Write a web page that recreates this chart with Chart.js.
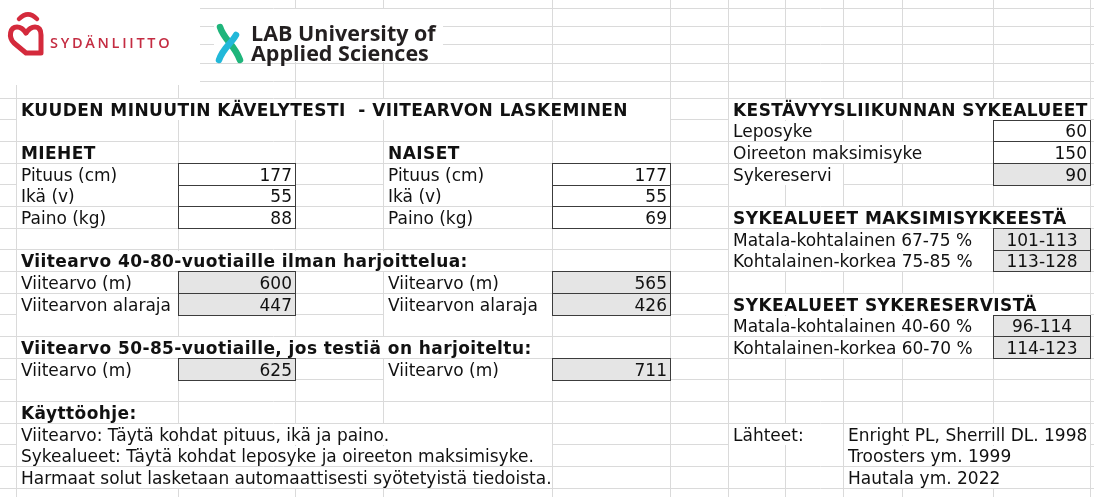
<!DOCTYPE html>
<html>
<head>
<meta charset="utf-8">
<script src="https://cdn.jsdelivr.net/npm/chart.js@4"></script>
<style>
  html, body { margin: 0; padding: 0; background: #fff; overflow: hidden; }
  #page { position: relative; width: 1094px; height: 497px; overflow: hidden; }
  #grid { position: absolute; left: 0; top: 0; }
  #cells { position: absolute; left: 0; top: 0; width: 1094px; height: 497px; }
  .cell { position: absolute; background: #fff; font-family: "DejaVu Sans", Verdana, sans-serif;
          font-size: 17px; color: #111; white-space: pre; overflow: visible; }
  .cell span { position: absolute; bottom: 1px; line-height: 17px; }
  .box { position: absolute; border: 1px solid #3c3c3c; box-sizing: border-box;
         font-family: "DejaVu Sans", Verdana, sans-serif; font-size: 17px; color: #111; }
  .box span { position: absolute; bottom: 1px; line-height: 17px; white-space: pre; }
  .gray { background: #e5e5e5; }
  .white { background: #fff; }
  .b { font-weight: bold; letter-spacing: 0.42px; }
  .cover { position: absolute; background: #fff; }
  .logo { position: absolute; }
</style>
</head>
<body>
<div id="page">
  <canvas id="grid" width="1094" height="497"></canvas>
  <div id="cells"></div>
  <div class="cover" style="left:0;top:0;width:200px;height:85px"></div>
  <div class="cover" style="left:214px;top:9px;width:229px;height:53px"></div>
  <svg class="logo" style="left:0;top:0" width="460" height="80">
    <path d="M19 19 Q28 10 37 19" fill="none" stroke="#d42a3c" stroke-width="4.5" stroke-linecap="round"/>
    <path d="M26 53 L14 43 C8 37 10 27 17 27 C21 27 24 30 26 33 C28 30 31 27 35 27 C40 27 41 31 41 35 L41 53 Z"
          fill="none" stroke="#d42a3c" stroke-width="5" stroke-linejoin="round"/>
    <text x="50" y="48" font-family="Open Sans" font-weight="600" font-size="14.5" letter-spacing="2.7" fill="#c42c42">SYDÄNLIITTO</text>
    <path d="M220 27 C224 40 234 44 240 60" fill="none" stroke="#1fb57b" stroke-width="6.5" stroke-linecap="round"/>
    <path d="M236 35 C231 44 223 48 219 60" fill="none" stroke="#22b8d9" stroke-width="6.5" stroke-linecap="round"/>
    <text x="251" y="41" font-family="Open Sans" font-weight="700" font-size="21.5" fill="#231f20">LAB University of</text>
    <text x="251" y="61" font-family="Open Sans" font-weight="700" font-size="21.5" fill="#231f20">Applied Sciences</text>
  </svg>
</div>
<script>
// sheet layout (px)
const colBounds = [16, 178, 295, 383, 552, 670, 728, 785, 843, 902, 993, 1090];
const rowBounds = [8, 26, 44, 63, 81, 98, 119.7, 141.3, 163, 184.7, 206.3, 228, 249.7, 271.3,
                   293, 314.7, 336.3, 358, 379.7, 401.3, 423, 444.7, 466.3, 488];
// column letters -> index in colBounds (left edge)
const COL = { B: 0, C: 1, D: 2, E: 3, F: 4, G: 5, H: 6, I: 7, J: 8, K: 9, L: 10 };
const FIRST = 5; // row index of the title row

// values
const title = "KUUDEN MINUUTIN KÄVELYTESTI  - VIITEARVON LASKEMINEN";
const inputLabels = ["Pituus (cm)", "Ikä (v)", "Paino (kg)"];
const miehetInput = [177, 55, 88];
const naisetInput = [177, 55, 69];
const refLabels = ["Viitearvo (m)", "Viitearvon alaraja"];
const miehetRef = [600, 447];
const naisetRef = [565, 426];
const miehetTrained = 625;
const naisetTrained = 711;
const hrLabels = ["Leposyke", "Oireeton maksimisyke", "Sykereservi"];
const hrValues = [60, 150, 90];
const maxLabels = ["Matala-kohtalainen 67-75 %", "Kohtalainen-korkea 75-85 %"];
const maxZones = ["101-113", "113-128"];
const resLabels = ["Matala-kohtalainen 40-60 %", "Kohtalainen-korkea 60-70 %"];
const resZones = ["96-114", "114-123"];
const instructions = [
  "Viitearvo: Täytä kohdat pituus, ikä ja paino.",
  "Sykealueet: Täytä kohdat leposyke ja oireeton maksimisyke.",
  "Harmaat solut lasketaan automaattisesti syötetyistä tiedoista."
];
const sources = ["Enright PL, Sherrill DL. 1998", "Troosters ym. 1999", "Hautala ym. 2022"];

const chart = new Chart(document.getElementById("grid"), {
  type: "scatter",
  data: { datasets: [{ data: [] }] },
  options: {
    responsive: false,
    animation: false,
    events: [],
    layout: { padding: 0 },
    plugins: { legend: { display: false }, tooltip: { enabled: false } },
    scales: {
      x: {
        type: "linear", min: 0, max: 1094,
        border: { display: false },
        grid: { color: "#dadada", drawTicks: false, lineWidth: 1 },
        ticks: { display: false },
        afterBuildTicks: (axis) => { axis.ticks = colBounds.map(v => ({ value: v })); }
      },
      y: {
        type: "linear", min: 0, max: 497, reverse: true,
        border: { display: false },
        grid: { color: "#dadada", drawTicks: false, lineWidth: 1 },
        ticks: { display: false },
        afterBuildTicks: (axis) => { axis.ticks = rowBounds.map(v => ({ value: v })); }
      }
    }
  }
});

const sx = (v) => Math.round(chart.scales.x.getPixelForValue(v));
const sy = (v) => Math.round(chart.scales.y.getPixelForValue(v));
const layer = document.getElementById("cells");

// text cell; background hides the vertical grid lines it overflows
function text(col, row, str, bold) {
  const r = FIRST + row;
  const left = sx(colBounds[COL[col]]) + 1;
  const top = sy(rowBounds[r]) + 1;
  const h = sy(rowBounds[r + 1]) - top;
  const d = document.createElement("div");
  d.className = "cell";
  d.style.left = left + "px";
  d.style.top = top + "px";
  d.style.height = h + "px";
  const s = document.createElement("span");
  s.textContent = str;
  s.style.left = "4px";
  if (bold) s.classList.add("b");
  d.appendChild(s);
  layer.appendChild(d);
  const end = left + 4 + s.offsetWidth;
  const stop = colBounds.find(b => sx(b) >= end) || 1094;
  d.style.width = (sx(stop) - left) + "px";
}

// bordered input / result cell
function box(col, row, val, gray, align) {
  const r = FIRST + row;
  const c = COL[col];
  const left = sx(colBounds[c]);
  const top = sy(rowBounds[r]);
  const d = document.createElement("div");
  d.className = "box " + (gray ? "gray" : "white");
  d.style.left = left + "px";
  d.style.top = top + "px";
  d.style.width = (sx(colBounds[c + 1]) - left + 1) + "px";
  d.style.height = (sy(rowBounds[r + 1]) - top + 1) + "px";
  const s = document.createElement("span");
  s.textContent = String(val);
  if (align === "center") { s.style.left = "0"; s.style.right = "0"; s.style.textAlign = "center"; }
  else s.style.right = "3px";
  d.appendChild(s);
  layer.appendChild(d);
}

text("B", 0, title, true);
text("H", 0, "KESTÄVYYSLIIKUNNAN SYKEALUEET", true);
text("B", 2, "MIEHET", true);
text("E", 2, "NAISET", true);
inputLabels.forEach((l, i) => {
  text("B", 3 + i, l);
  text("E", 3 + i, l);
  box("C", 3 + i, miehetInput[i], false);
  box("F", 3 + i, naisetInput[i], false);
});
hrLabels.forEach((l, i) => {
  text("H", 1 + i, l);
  box("L", 1 + i, hrValues[i], i === 2);
});
text("H", 5, "SYKEALUEET MAKSIMISYKKEESTÄ", true);
maxLabels.forEach((l, i) => {
  text("H", 6 + i, l);
  box("L", 6 + i, maxZones[i], true, "center");
});
text("B", 7, "Viitearvo 40-80-vuotiaille ilman harjoittelua:", true);
refLabels.forEach((l, i) => {
  text("B", 8 + i, l);
  text("E", 8 + i, l);
  box("C", 8 + i, miehetRef[i], true);
  box("F", 8 + i, naisetRef[i], true);
});
text("H", 9, "SYKEALUEET SYKERESERVISTÄ", true);
resLabels.forEach((l, i) => {
  text("H", 10 + i, l);
  box("L", 10 + i, resZones[i], true, "center");
});
text("B", 11, "Viitearvo 50-85-vuotiaille, jos testiä on harjoiteltu:", true);
text("B", 12, "Viitearvo (m)");
text("E", 12, "Viitearvo (m)");
box("C", 12, miehetTrained, true);
box("F", 12, naisetTrained, true);
text("B", 14, "Käyttöohje:", true);
instructions.forEach((l, i) => text("B", 15 + i, l));
text("H", 15, "Lähteet:");
sources.forEach((l, i) => text("J", 15 + i, l));
</script>
</body>
</html>
